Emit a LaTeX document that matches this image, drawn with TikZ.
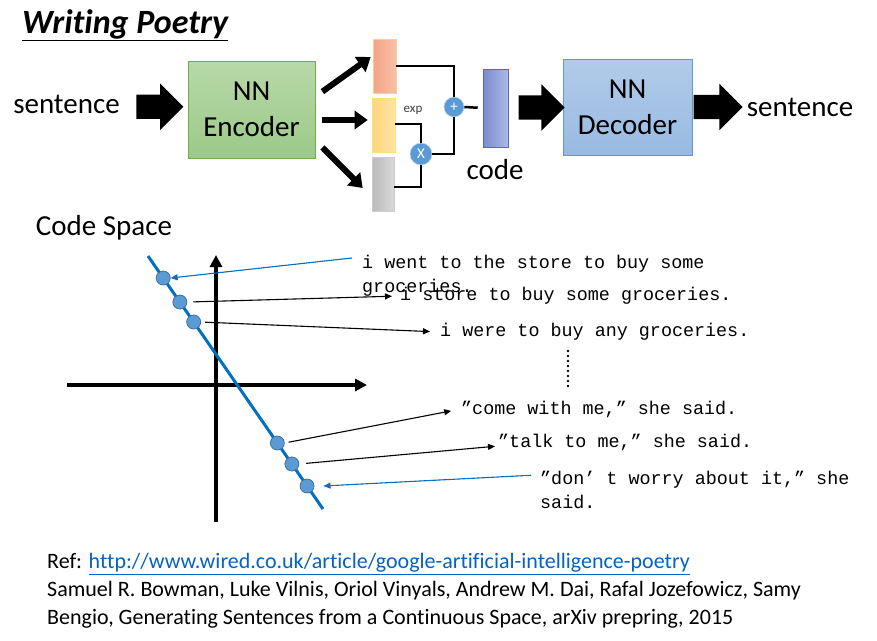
\documentclass[tikz,border=0pt]{standalone}
\usepackage{fontspec}
\setmainfont{Carlito}[Ligatures=NoCommon]
\newfontfamily\monofont{Liberation Mono}
\usetikzlibrary{positioning, calc, shapes.arrows, arrows.meta}

\definecolor{encTop}{RGB}{183,217,168}
\definecolor{encBot}{RGB}{156,201,137}
\definecolor{encEdge}{RGB}{112,173,71}
\definecolor{decTop}{RGB}{178,203,233}
\definecolor{decBot}{RGB}{152,186,226}
\definecolor{decEdge}{RGB}{91,155,213}
\definecolor{opBlue}{RGB}{91,155,213}
\definecolor{lineBlue}{RGB}{0,112,192}
\definecolor{dotBlue}{RGB}{91,155,213}
\definecolor{dotEdge}{RGB}{65,113,156}
\definecolor{urlBlue}{RGB}{5,99,193}

\tikzset{
  label29/.style={inner sep=0pt, font=\fontsize{29}{36}\selectfont},
  netbox/.style={draw=#1, line width=0.8pt, minimum width=127pt, minimum height=97pt,
    align=center, inner sep=0pt, font=\fontsize{29}{36}\selectfont},
  bar/.style={minimum width=23pt, minimum height=54pt, inner sep=0pt, line width=0.6pt},
  op/.style={circle, fill=opBlue, draw=white!60!opBlue, line width=0.6pt, text=white,
    inner sep=0pt, minimum size=#1, font=\fontsize{15}{15}\selectfont},
  blockarrow/.style={single arrow, fill=black, inner xsep=0pt, inner ysep=12pt,
    single arrow head extend=11pt, minimum height=#1},
  fatarrow/.style={line width=6pt, -{Triangle[length=13pt,width=18pt]}},
  wire/.style={line width=2.5pt},
  axis/.style={line width=4pt, -{Triangle[length=12pt,width=12pt]}},
  latent/.style={draw=lineBlue, line width=3pt},
  dot/.style={circle, fill=dotBlue, draw=dotEdge, line width=0.8pt, minimum size=14pt, inner sep=0pt},
  sent/.style={inner sep=0pt, anchor=west, align=left, font=\monofont\fontsize{18.4}{23.5}\selectfont},
  link/.style={line width=1.1pt, -{Triangle[length=7pt,width=6pt]}}
}

\begin{document}
\begin{tikzpicture}[x=1pt, y=-1pt]
  \useasboundingbox (0,0) rectangle (877,640);

  % title
  \node[inner sep=0pt, anchor=base west, font=\fontsize{34}{36}\selectfont\bfseries\itshape]
    (title) at (22,33) {\underline{Writing Poetry}};

  % the autoencoder
  \node[label29] (src) at (66.5,104) {sentence};
  \node[netbox=encEdge, top color=encTop, bottom color=encBot] (enc) at (251.5,109.5) {NN\\Encoder};
  \node[blockarrow=47pt] (a1) at ($(src.east)!0.5!(enc.west)$) {};

  \node[bar, draw=orange!40, left color={rgb,255:red,244;green,164;blue,132}, right color={rgb,255:red,247;green,192;blue,170}]
    (mu) at (384.5,66) {};
  \node[bar, draw=yellow!60!orange!50, left color={rgb,255:red,255;green,213;blue,125}, right color={rgb,255:red,255;green,228;blue,165}]
    (sig) at (383.5,125) {};
  \node[bar, minimum width=22pt, draw=black!20, left color=black!27, right color=black!15]
    (eps) at (383,184) {};

  \draw[fatarrow] ($(enc.north east)+(7,31)$) -- ($(mu.west)+(-2,-9)$);
  \draw[fatarrow] ($(enc.east)+(7,10.5)$) -- ($(sig.west)+(-4,-5)$);
  \draw[fatarrow] ($(enc.south east)+(7,-11)$) -- ($(eps.west)+(-9,4)$);

  \node[op=20pt] (plus) at (454,107) {+};
  \node[op=22pt] (times) at (421,154) {X};
  \node[inner sep=0pt, text=black!75, font=\fontsize{13}{13}\selectfont] (exp) at (413,110) {exp};

  \node[bar, minimum width=25pt, minimum height=78pt, draw={rgb,255:red,68;green,114;blue,196},
    left color={rgb,255:red,122;green,140;blue,205}, right color={rgb,255:red,172;green,184;blue,229}]
    (code) at (495.5,108) {};
  \node[label29] (codelbl) at (495,170) {code};

  \draw[wire] (mu.east) -| (plus.north);
  \draw[wire] ([yshift=1pt]sig.east) -| (times.north);
  \draw[wire] ([yshift=-3pt]eps.east) -| (times.south);
  \draw[wire] (times.east) -| (plus.south);
  \draw[wire, shorten >=5pt] (plus.east) -- (code.west);

  \node[netbox=decEdge, minimum width=129pt, minimum height=96pt, top color=decTop, bottom color=decBot]
    (dec) at (627.5,107) {NN\\Decoder};
  \node[blockarrow=46pt] (a2) at ($(code.east)!0.5!(dec.west)$) {};
  \node[label29] (dst) at (800,107) {sentence};
  \node[blockarrow=49pt, right=1pt of dec.east, anchor=west] (a3) {};

  % code space
  \node[label29] (space) at (104,228) {Code Space};
  \coordinate (yb) at (216,522);
  \coordinate (yt) at (216,255);
  \coordinate (xl) at (67,385);
  \coordinate (xr) at (367,385);
  \draw[axis] (yb) -- (yt);
  \draw[axis] (xl) -- (xr);

  \coordinate (lt) at (148,256);
  \coordinate (lb) at (323,509);
  \draw[latent] (lt) -- (lb);
  \foreach \p [count=\i] in {0.087,0.182,0.261,0.739,0.822,0.909}
    \path (lt) -- (lb) node[dot, pos=\p] (d\i) {};

  \node[sent] (t1) at (362,275.5) {i went to the store to buy some\\groceries.};
  \node[sent] (t2) at (400,296) {i store to buy some groceries.};
  \node[sent] (t3) at (440,332) {i were to buy any groceries.};
  \node[sent] (t4) at (461,409) {”come with me,” she said.};
  \node[sent] (t5) at (498,442) {”talk to me,” she said.};
  \node[sent] (t6) at (540,490) {”don’ t worry about it,” she\\said.};

  \draw[link, draw=lineBlue, fill=lineBlue] ($(t1.north west)+(-10,3)$) -- (d1.east);
  \draw[link, shorten <=6pt, shorten >=8pt] (d2.east) -- (t2.west);
  \draw[link, shorten <=4pt, shorten >=10pt] (d3.east) -- (t3.west);
  \draw[link, shorten <=4pt, shorten >=10pt] (d4.east) -- (t4.west);
  \draw[link, shorten <=7pt, shorten >=3pt] (d5.east) -- ($(t5.west)+(0,4)$);
  \draw[link, draw=lineBlue, fill=lineBlue] ($(t6.north west)+(-9,4)$) -- ([xshift=9pt]d6.east);

  \draw[line width=2.6pt, line cap=round, dash pattern=on 0pt off 5pt] (568,351) -- (568,386);

  % reference
  \node[inner sep=0pt, anchor=west, align=left, font=\fontsize{22}{28}\selectfont] (refs) at (47,591)
    {Ref: \textcolor{urlBlue}{\underline{http://www.wired.co.uk/article/google-artificial-intelligence-poetry}}\\
     Samuel R. Bowman, Luke Vilnis, Oriol Vinyals, Andrew M. Dai, Rafal Jozefowicz, Samy\\
     Bengio, Generating Sentences from a Continuous Space, arXiv prepring, 2015};
\end{tikzpicture}
\end{document}
